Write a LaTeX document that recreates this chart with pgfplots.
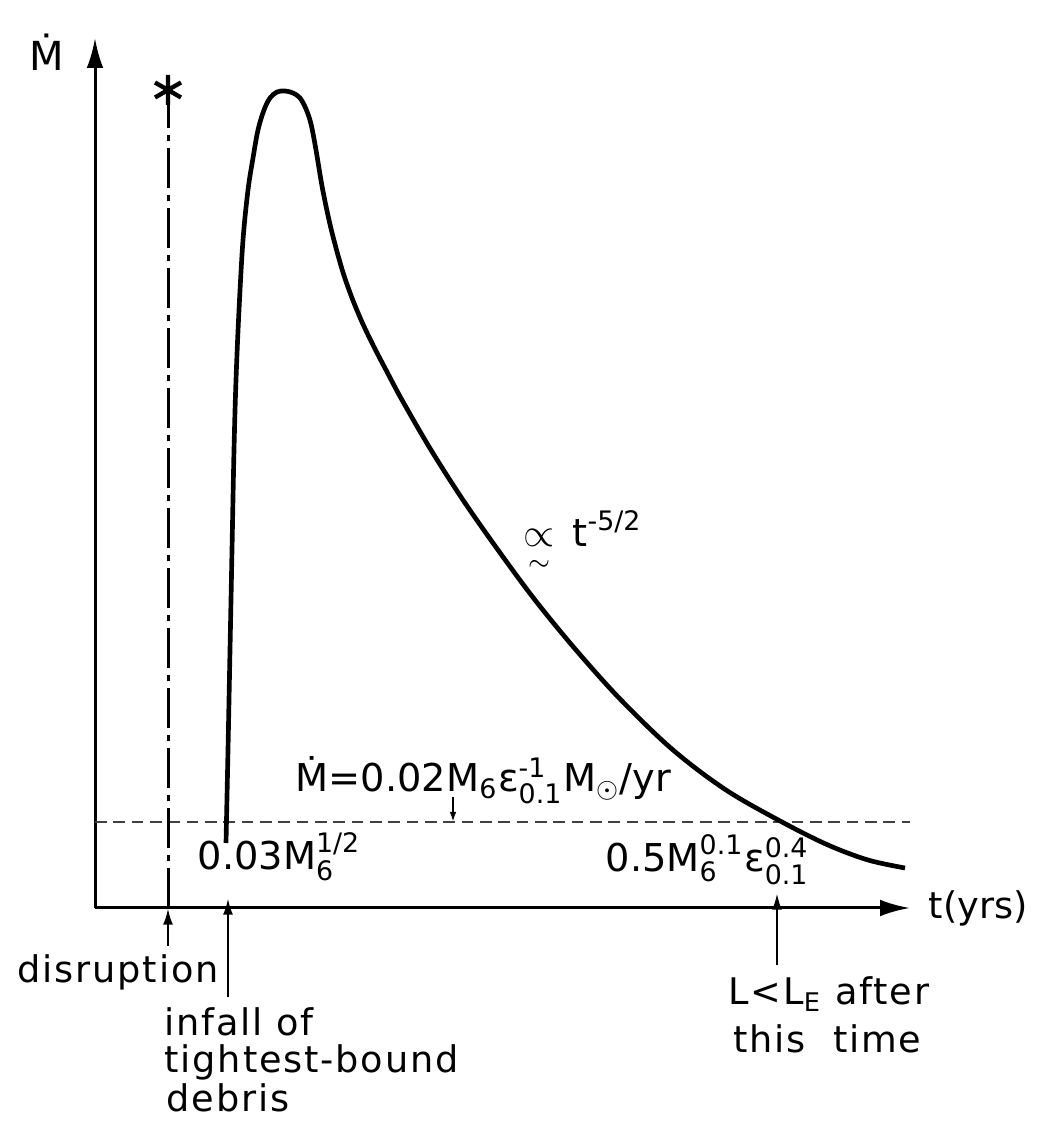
\documentclass[border=0pt]{standalone}
\usepackage{pgfplots}
\pgfplotsset{compat=1.18}
\usepackage{amsmath}
\usepackage{fontspec}
\setmainfont{DejaVu Sans}
\newfontfamily\wide{DejaVu Sans}[LetterSpace=5]
\usetikzlibrary{arrows.meta}
\newcommand\tx[1]{\text{#1}}
\begin{document}
\begin{tikzpicture}
\begin{axis}[x=0.3pt,y=0.3pt,xmin=0,xmax=815,ymin=0,ymax=870,
 axis lines=left, ticks=none, clip=false,
 axis line style={line width=0.9pt, -{Latex[length=9pt,width=5pt]}},
 ]
\path (axis cs:-95,-217) rectangle (axis cs:943,908);
% threshold accretion rate (dashed)
\addplot[line width=0.6pt, dash pattern=on 3.5pt off 2pt, black!75] coordinates {(0,86) (815,86)};
% disruption line with star
\addplot[line width=0.9pt, dash pattern=on 12pt off 2pt on 2pt off 2pt] coordinates {(73,0) (73,806)};
\addplot[only marks, mark=asterisk, mark size=4.5pt, mark options={line width=1.3pt}] coordinates {(73,818)};
% fallback accretion curve
\addplot[smooth, tension=0.55, line width=1.4pt] coordinates {
(131,65) (133,158) (135,258) (137,358) (139,458) (141,528) (144,598) (148,668)
(153,718) (158,750) (163,778) (169,798) (175,810) (182,816) (190,817) (198,815)
(205,810) (211,799) (216,784) (221,758) (227,722) (234,688) (241,660) (248.5,634)
(257,610) (267,586) (278.5,562) (291,538) (307,508) (336,458) (368,408) (403,358)
(440,308) (481,258) (526,208) (578,158) (631,118) (687,86) (733,63) (773,48) (810,40)};
% annotation arrows
\addplot[line width=0.8pt, -{Latex[length=5pt,width=3pt]}] coordinates {(73,-38) (73,0)};
\addplot[line width=0.8pt, -{Latex[length=5pt,width=3pt]}] coordinates {(133,-89) (133,10)};
\addplot[line width=0.8pt, -{Latex[length=5pt,width=3pt]}] coordinates {(682,-57) (682,15)};
\addplot[line width=0.6pt, -{Latex[length=3pt,width=2pt]}] coordinates {(358,111) (358,86)};
% labels
\node[font=\fontsize{12}{14}\selectfont] at (axis cs:-48,856) {Ṁ};
\node[anchor=west, font=\fontsize{11}{13}\selectfont] at (axis cs:822,0) {t(yrs)};
\node[anchor=base west, font=\fontsize{11.5}{13}\selectfont, inner sep=0pt] at (axis cs:200,116)
 {Ṁ$\tx{=0.02M}_{\tx{6}}\tx{ε}^{\tx{-1}}_{\tx{0.1}}\tx{M}_{\odot}\tx{/yr}$};
\node[anchor=base west, font=\fontsize{11.5}{13}\selectfont, inner sep=0pt] at (axis cs:102,38)
 {$\tx{0.03M}^{\tx{1/2}}_{\tx{6}}$};
\node[anchor=base west, font=\fontsize{11.5}{13}\selectfont, inner sep=0pt] at (axis cs:510,36)
 {$\tx{0.5M}^{\tx{0.1}}_{\tx{6}}\tx{ε}^{\tx{0.4}}_{\tx{0.1}}$};
\node[anchor=base west, font=\fontsize{11.5}{13}\selectfont, inner sep=0pt] at (axis cs:428,361)
 {$\underset{\sim}{\propto}\,\tx{t}^{\tx{-5/2}}$};
\node[anchor=base west, font=\wide\fontsize{11}{13}\selectfont, inner sep=0pt] at (axis cs:-78,-75) {disruption};
\node[anchor=base west, font=\wide\fontsize{11}{13}\selectfont, inner sep=0pt] at (axis cs:69,-127) {infall of};
\node[anchor=base west, font=\wide\fontsize{11}{13}\selectfont, inner sep=0pt] at (axis cs:69,-165) {tightest-bound};
\node[anchor=base west, font=\wide\fontsize{11}{13}\selectfont, inner sep=0pt] at (axis cs:71,-203) {debris};
\node[anchor=base west, font=\wide\fontsize{11}{13}\selectfont, inner sep=0pt] at (axis cs:633,-97) {L<L\textsubscript{E} after};
\node[anchor=base west, font=\wide\fontsize{11}{13}\selectfont, inner sep=0pt] at (axis cs:638,-144) {this\ \ time};
\end{axis}
\end{tikzpicture}
\end{document}
